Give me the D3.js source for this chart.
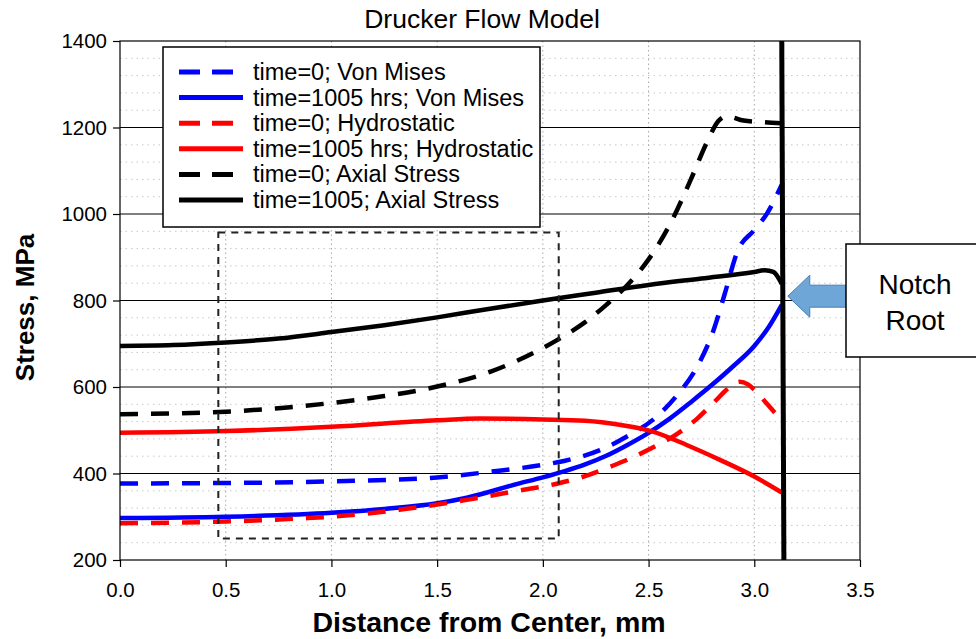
<!DOCTYPE html>
<html>
<head>
<meta charset="utf-8">
<script src="https://cdn.jsdelivr.net/npm/d3@7/dist/d3.min.js"></script>
<style>
  body { margin: 0; background: #fff; }
  text { font-family: "Liberation Sans", Arial, sans-serif; fill: #000; }
</style>
</head>
<body>
<svg id="chart"></svg>
<script>
// distance from centre (mm) / stress (MPa)
const vmX0 = [0, 0.5, 1.0, 1.5, 1.75, 2.0, 2.1, 2.27, 2.41, 2.52, 2.63, 2.73, 2.81, 2.86, 2.92, 3.0, 3.06, 3.13];
const vmY0 = [377, 378, 382, 391, 404, 420, 429, 454, 489, 524, 578, 647, 735, 815, 913, 963, 1001, 1068];

const vmX1 = [0, 0.5, 1.0, 1.25, 1.5, 1.64, 1.88, 2.0, 2.1, 2.2, 2.3, 2.4, 2.5, 2.6, 2.7, 2.8, 2.9, 3.0, 3.07, 3.13];
const vmY1 = [297, 300, 309, 318, 331, 344, 376, 391, 405, 421, 441, 466, 494, 527, 565, 605, 648, 695, 740, 790];

const hyX0 = [0, 0.5, 0.85, 1.0, 1.32, 1.64, 1.88, 2.08, 2.2, 2.33, 2.45, 2.52, 2.63, 2.73, 2.81, 2.88, 2.93, 2.97, 3.0, 3.06, 3.12];
const hyY0 = [285, 289, 296, 300, 316, 339, 360, 378, 394, 418, 443, 460, 490, 527, 565, 598, 612, 606, 594, 561, 528];

const hyX1 = [0, 0.5, 1.0, 1.5, 1.7, 2.0, 2.2, 2.37, 2.52, 2.68, 2.84, 3.0, 3.13];
const hyY1 = [494, 498, 508, 523, 527, 525, 522, 512, 497, 466, 431, 393, 356];

const axX0 = [0, 0.25, 0.5, 0.75, 1.0, 1.25, 1.5, 1.75, 2.0, 2.1, 2.2, 2.3, 2.4, 2.5, 2.6, 2.7, 2.78, 2.83, 2.87, 2.95, 3.05, 3.13];
const axY0 = [537, 539, 543, 551, 563, 579, 601, 635, 690, 718, 750, 790, 836, 895, 975, 1080, 1170, 1215, 1226, 1216, 1212, 1210];

const axX1 = [0, 0.25, 0.5, 0.75, 1.0, 1.25, 1.5, 1.75, 2.0, 2.25, 2.5, 2.75, 3.0, 3.05, 3.09, 3.13];
const axY1 = [695, 697, 703, 712, 727, 743, 761, 781, 800, 818, 836, 851, 866, 870, 866, 838];

const notchX = [3.13, 3.14];
const notchY = [1400, 200];

const boxX = [0.465, 2.075];
const boxY = [250, 957];

const legendLabels = [
  "time=0; Von Mises",
  "time=1005 hrs; Von Mises",
  "time=0; Hydrostatic",
  "time=1005 hrs; Hydrostatic",
  "time=0; Axial Stress",
  "time=1005; Axial Stress"
];

const xTicks = [0, 0.5, 1.0, 1.5, 2.0, 2.5, 3.0, 3.5];
const yTicks = [200, 400, 600, 800, 1000, 1200, 1400];

const W = 976, H = 639;
const M = {left: 120, right: 116, top: 41, bottom: 79};

const svg = d3.select('#chart').attr('width', W).attr('height', H);

const x = d3.scaleLinear().domain([0, 3.5]).range([M.left, W - M.right]);
const y = d3.scaleLinear().domain([200, 1400]).range([H - M.bottom, M.top]);

const zip = (xs, ys) => xs.map((v, i) => [v, ys[i]]);

const series = [
  {data: zip(vmX0, vmY0), color: '#0000ff', dash: true},
  {data: zip(vmX1, vmY1), color: '#0000ff', dash: false},
  {data: zip(hyX0, hyY0), color: '#ff0000', dash: true},
  {data: zip(hyX1, hyY1), color: '#ff0000', dash: false},
  {data: zip(axX0, axY0), color: '#000000', dash: true},
  {data: zip(axX1, axY1), color: '#000000', dash: false}
];

// minor horizontal grid (dotted, every 40)
const minorY = d3.range(240, 1400, 40).filter(v => v % 200 !== 0);
svg.append('g')
  .selectAll('line')
  .data(minorY)
  .enter().append('line')
  .attr('x1', x(0)).attr('x2', x(3.5))
  .attr('y1', d => y(d)).attr('y2', d => y(d))
  .style('stroke', '#c8c8c8')
  .style('stroke-width', 1)
  .style('stroke-dasharray', '1.5,4');

// vertical grid (dotted)
svg.append('g')
  .selectAll('line')
  .data(xTicks.slice(1, -1))
  .enter().append('line')
  .attr('x1', d => x(d)).attr('x2', d => x(d))
  .attr('y1', y(200)).attr('y2', y(1400))
  .style('stroke', '#a8a8a8')
  .style('stroke-width', 1)
  .style('stroke-dasharray', '1.5,3');

// major horizontal grid
svg.append('g')
  .selectAll('line')
  .data(yTicks.slice(1, -1))
  .enter().append('line')
  .attr('x1', x(0)).attr('x2', x(3.5))
  .attr('y1', d => y(d)).attr('y2', d => y(d))
  .style('stroke', '#000')
  .style('stroke-width', 1);

// axes
const yAxis = svg.append('g')
  .attr('transform', `translate(${x(0)},0)`)
  .call(d3.axisLeft(y).tickValues(yTicks).tickSize(7).tickPadding(6).tickFormat(d3.format('d')));
const xAxis = svg.append('g')
  .attr('transform', `translate(0,${y(200)})`)
  .call(d3.axisBottom(x).tickValues(xTicks).tickSize(7).tickPadding(15).tickFormat(d3.format('.1f')));
[yAxis, xAxis].forEach(a => {
  a.select('.domain').remove();
  a.selectAll('line').style('stroke', '#000').style('stroke-width', 1.2);
  a.selectAll('text').style('font-size', '20.5px').style('font-family', '"Liberation Sans", Arial, sans-serif');
});

// data lines
const line = d3.line()
  .x(d => x(d[0]))
  .y(d => y(d[1]))
  .curve(d3.curveMonotoneX);

svg.append('g')
  .selectAll('path')
  .data(series)
  .enter().append('path')
  .attr('d', d => line(d.data))
  .style('fill', 'none')
  .style('stroke', d => d.color)
  .style('stroke-width', 4.5)
  .style('stroke-dasharray', d => d.dash ? '18,13' : null);

// notch root line
svg.append('path')
  .attr('d', d3.line().x(d => x(d[0])).y(d => y(d[1]))(zip(notchX, notchY)))
  .style('fill', 'none')
  .style('stroke', '#000')
  .style('stroke-width', 5);

// dashed region box
svg.append('rect')
  .attr('x', x(boxX[0]))
  .attr('y', y(boxY[1]))
  .attr('width', x(boxX[1]) - x(boxX[0]))
  .attr('height', y(boxY[0]) - y(boxY[1]))
  .style('fill', 'none')
  .style('stroke', '#222')
  .style('stroke-width', 2)
  .style('stroke-dasharray', '7,6');

// plot frame
svg.append('rect')
  .attr('x', x(0)).attr('y', y(1400))
  .attr('width', x(3.5) - x(0)).attr('height', y(200) - y(1400))
  .style('fill', 'none')
  .style('stroke', '#000')
  .style('stroke-width', 1.2);

// legend
const legend = svg.append('g').attr('transform', 'translate(163,47)');
legend.append('rect')
  .attr('width', 377).attr('height', 180)
  .style('fill', '#fff')
  .style('stroke', '#000')
  .style('stroke-width', 1.5);
const rows = legend.selectAll('g.row')
  .data(series)
  .enter().append('g')
  .attr('class', 'row')
  .attr('transform', (d, i) => `translate(0,${25 + i * 25.6})`);
rows.append('line')
  .attr('x1', 16).attr('x2', 80)
  .style('stroke', d => d.color)
  .style('stroke-width', 5)
  .style('stroke-dasharray', d => d.dash ? '21,12' : null);
rows.append('text')
  .attr('x', 90).attr('y', 8)
  .style('font-size', '23.5px')
  .text((d, i) => legendLabels[i]);

// title and axis labels
svg.append('text')
  .attr('x', 482).attr('y', 28)
  .style('text-anchor', 'middle')
  .style('font-size', '26.5px')
  .text('Drucker Flow Model');

svg.append('text')
  .attr('transform', `translate(34,${(y(200) + y(1400)) / 2 + 7}) rotate(-90)`)
  .style('text-anchor', 'middle')
  .style('font-size', '26px')
  .style('font-weight', 'bold')
  .text('Stress, MPa');

svg.append('text')
  .attr('x', 489).attr('y', 632)
  .style('text-anchor', 'middle')
  .style('font-size', '28.5px')
  .style('font-weight', 'bold')
  .text('Distance from Center, mm');

// notch root annotation
const tipX = x(notchX[0]) + 6, tipY = y(810);
svg.append('path')
  .attr('d', `M${tipX},${tipY} L${tipX + 22},${tipY - 21} L${tipX + 22},${tipY - 11} L${tipX + 62},${tipY - 11} L${tipX + 62},${tipY + 11} L${tipX + 22},${tipY + 11} L${tipX + 22},${tipY + 21} Z`)
  .style('fill', '#6fa6d8')
  .style('stroke', '#4a7fb0')
  .style('stroke-width', 1);

const note = svg.append('g').attr('transform', 'translate(846,244)');
note.append('rect')
  .attr('width', 140).attr('height', 113)
  .style('fill', '#fff')
  .style('stroke', '#000')
  .style('stroke-width', 1.5);
note.append('text')
  .attr('x', 69).attr('y', 50)
  .style('text-anchor', 'middle')
  .style('font-size', '28px')
  .text('Notch');
note.append('text')
  .attr('x', 69).attr('y', 86)
  .style('text-anchor', 'middle')
  .style('font-size', '28px')
  .text('Root');
</script>
</body>
</html>
